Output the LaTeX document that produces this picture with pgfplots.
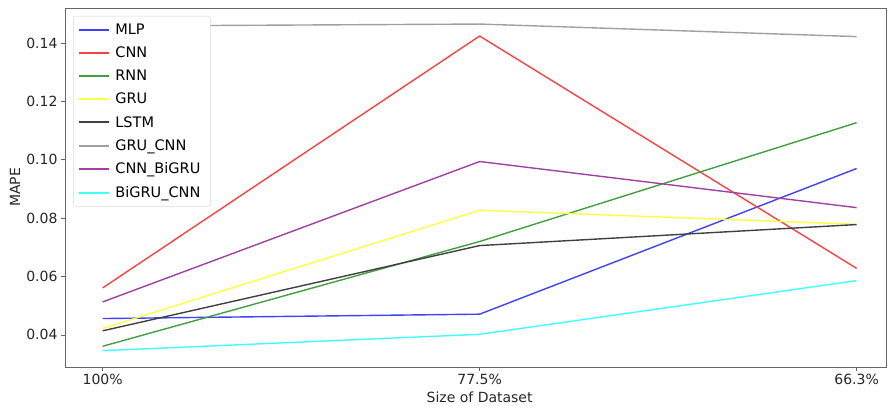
\documentclass[border=0pt]{standalone}
\usepackage{pgfplots}
\pgfplotsset{compat=1.18}
\usepackage{fontspec}
\setmainfont{DejaVu Sans}
\definecolor{mplblue}{RGB}{64,64,255}
\definecolor{mplred}{RGB}{255,64,64}
\definecolor{mplgreen}{RGB}{64,160,64}
\definecolor{mplyellow}{RGB}{255,255,64}
\definecolor{mplblack}{RGB}{64,64,64}
\definecolor{mplpurple}{RGB}{160,64,160}
\definecolor{mplgray}{RGB}{160,160,160}
\definecolor{mplcyan}{RGB}{64,255,255}
\begin{document}
\begin{tikzpicture}
\begin{axis}[
  name=main,
  scale only axis,
  width=821pt, height=359pt,
  xmin=-0.1, xmax=2.078,
  ymin=0.029, ymax=0.152,
  xtick={0,1,2},
  xticklabels={100\%,77.5\%,66.3\%},
  ytick={0.04,0.06,0.08,0.10,0.12,0.14},
  yticklabel style={/pgf/number format/fixed,/pgf/number format/fixed zerofill,/pgf/number format/precision=2},
  /pgf/number format/assume math mode=true,
  scaled y ticks=false,
  tick label style={font=\fontsize{14}{16}\selectfont, text=black!85},
  label style={font=\fontsize{14}{16}\selectfont, text=black!85},
  xlabel={Size of Dataset},
  ylabel={MAPE},
  xlabel style={at={(axis description cs:0.505,-0.0836)}, anchor=center},
  ylabel style={at={(axis description cs:-0.061,0.5)}, anchor=center, rotate=0},
  tick align=outside,
  major tick length=4pt,
  tick style={black!60, line width=0.6pt},
  xtick pos=bottom, ytick pos=left,
  axis line style={black!60, line width=0.8pt},
  every axis plot/.append style={line width=1.4pt},
  legend style={at={(0.01,0.978)}, anchor=north west, draw=black!15, rounded corners=2pt,
    font=\fontsize{14.5}{16}\selectfont, row sep=7pt, inner xsep=5pt, inner ysep=5.5pt,
    fill=white, nodes={inner xsep=5pt}},
  legend cell align=left,
  legend image code/.code={\draw[#1, line width=2pt] (0pt,0pt) -- (30pt,0pt);},
]
\addplot[mplblue] coordinates {(0,0.0456) (1,0.0471) (2,0.0970)};
\addplot[mplred] coordinates {(0,0.0561) (1,0.1424) (2,0.0628)};
\addplot[mplgreen] coordinates {(0,0.0361) (1,0.0720) (2,0.1127)};
\addplot[mplyellow] coordinates {(0,0.0422) (1,0.0827) (2,0.0779)};
\addplot[mplblack] coordinates {(0,0.0414) (1,0.0706) (2,0.0778)};
\addplot[mplgray] coordinates {(0,0.1458) (1,0.1465) (2,0.1422)};
\addplot[mplpurple] coordinates {(0,0.0513) (1,0.0994) (2,0.0836)};
\addplot[mplcyan] coordinates {(0,0.0346) (1,0.0402) (2,0.0586)};
\legend{MLP,CNN,RNN,GRU,LSTM,GRU\_CNN,CNN\_BiGRU,BiGRU\_CNN}
\end{axis}
\pgfresetboundingbox
\path (main.south west) ++(-65pt,-39pt) coordinate (bbA);
\path (main.north east) ++(2pt,8pt) coordinate (bbB);
\useasboundingbox (bbA) rectangle (bbB);
\end{tikzpicture}
\end{document}
